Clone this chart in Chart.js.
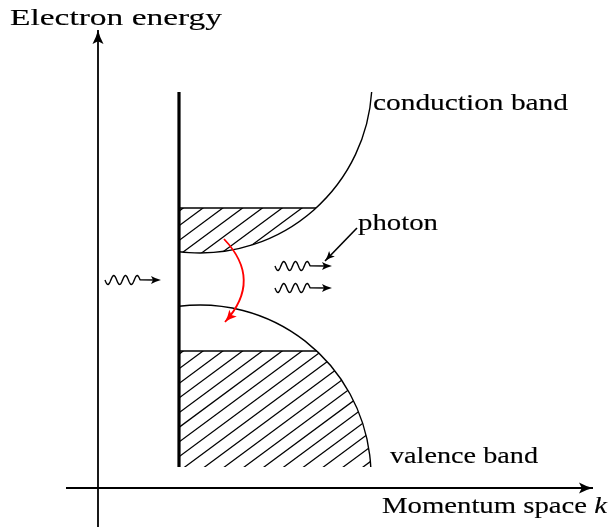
<!DOCTYPE html>
<html lang="en">
<head>
  <meta charset="UTF-8">
  <title>Band diagram</title>
  <!-- Chart.js -->
  <script src="https://cdn.jsdelivr.net/npm/chart.js"></script>
  <style>
    html, body { margin: 0; padding: 0; background: #fff; }
    #wrap { width: 609px; height: 530px; position: relative; }
  </style>
</head>
<body>
  <div id="wrap"><canvas id="bandChart"></canvas></div>

  <script>
    // units are px, origin where the two axes cross, y pointing up
    const xAxisLine = [{x: -32, y: 0}, {x: 495, y: 0}];
    const yAxisLine = [{x: 0, y: -39}, {x: 0, y: 458}];
    const wallLine = [{x: 81, y: 21}, {x: 81, y: 396}];
    const pointerLine = [{x: 259, y: 260}, {x: 227, y: 227}];

    // bands: circle arcs starting at the wall
    const bandNames = ['conduction band', 'valence band'];
    const bandCenterX = [102, 102];
    const bandCenterY = [407, 12];
    const bandRadius = [172, 171];
    const bandEndY = [396, 21];
    const bandFillLevel = [280, 137];

    // photons: wave start and arrow tip
    const waveStart = [{x: 7, y: 208}, {x: 177, y: 222}, {x: 177, y: 200}];
    const waveTip = [{x: 63, y: 208}, {x: 234, y: 222}, {x: 234, y: 200}];

    // red transition arrow (start, bend control, end)
    const transitionPath = [{x: 126, y: 249}, {x: 165, y: 208}, {x: 127, y: 166}];

    // labels
    const labelTexts = ['Electron energy', 'conduction band', 'photon', 'valence band', 'Momentum space '];
    const labelItalic = ['', '', '', '', 'k'];
    const labelX = [-88, 275, 260, 292, 284];
    const labelY = [463, 378, 258, 25, -25];

    // style bits
    const labelWidth = [212, 195, 80, 148, 225];
    const FONT = '24px "Liberation Serif", "Times New Roman", serif';
    const FONT_IT = 'italic 24px "Liberation Serif", "Times New Roman", serif';

    function arrowHead(ctx, tx, ty, dx, dy, len, half, color) {
      const a = Math.atan2(dy, dx);
      ctx.save();
      ctx.translate(tx, ty);
      ctx.rotate(a);
      ctx.fillStyle = color;
      ctx.beginPath();
      ctx.moveTo(0, 0);
      ctx.quadraticCurveTo(-len * 0.55, half * 0.35, -len, half);
      ctx.lineTo(-len * 0.8, 0);
      ctx.lineTo(-len, -half);
      ctx.quadraticCurveTo(-len * 0.55, -half * 0.35, 0, 0);
      ctx.fill();
      ctx.restore();
    }

    function bandGeom(chart, i) {
      const xs = chart.scales.x, ys = chart.scales.y;
      const k = xs.getPixelForValue(1) - xs.getPixelForValue(0);
      const cx = xs.getPixelForValue(bandCenterX[i]);
      const cy = ys.getPixelForValue(bandCenterY[i]);
      const r = bandRadius[i] * k;
      const wx = xs.getPixelForValue(wallLine[0].x);
      const sign = bandCenterY[i] > bandFillLevel[i] ? 1 : -1; // 1 = arc below its centre
      const dxw = wx - cx;
      const thW = Math.atan2(sign * Math.sqrt(r * r - dxw * dxw), dxw);
      const ye = ys.getPixelForValue(bandEndY[i]);
      const thE = Math.atan2(ye - cy, Math.sqrt(r * r - (ye - cy) * (ye - cy)));
      const yl = ys.getPixelForValue(bandFillLevel[i]);
      const dxl = Math.sqrt(r * r - (yl - cy) * (yl - cy));
      const thL = Math.atan2(yl - cy, dxl);
      return {cx, cy, r, wx, sign, thW, thE, ye, yl, xl: cx + dxl, thL};
    }

    const bandPlugin = {
      id: 'bandDiagram',
      beforeDatasetsDraw(chart) {
        const ctx = chart.ctx;
        for (let i = 0; i < bandNames.length; i++) {
          const g = bandGeom(chart, i);

          // hatched filled states
          ctx.save();
          ctx.beginPath();
          ctx.moveTo(g.wx, g.yl);
          ctx.lineTo(g.xl, g.yl);
          if (g.sign > 0) {
            ctx.arc(g.cx, g.cy, g.r, g.thL, g.thW, false);
          } else {
            ctx.arc(g.cx, g.cy, g.r, g.thL, g.thE, false);
            ctx.lineTo(g.wx, g.ye);
          }
          ctx.closePath();
          ctx.clip();
          ctx.strokeStyle = '#000';
          ctx.lineWidth = 1.25;
          const slope = 0.74, gap = 19.8;
          for (let n = -30; n <= 30; n++) {
            const x0 = 203 + n * gap;
            ctx.beginPath();
            ctx.moveTo(x0 - 400, g.yl + 400 * slope);
            ctx.lineTo(x0 + 400, g.yl - 400 * slope);
            ctx.stroke();
          }
          ctx.restore();

          // level line
          ctx.save();
          ctx.strokeStyle = '#000';
          ctx.lineWidth = 1.4;
          ctx.beginPath();
          ctx.moveTo(g.wx, g.yl);
          ctx.lineTo(g.xl, g.yl);
          ctx.stroke();

          // band arc
          ctx.beginPath();
          ctx.arc(g.cx, g.cy, g.r, Math.min(g.thE, g.thW), Math.max(g.thE, g.thW), false);
          ctx.stroke();
          ctx.restore();
        }
      },
      afterDatasetsDraw(chart) {
        const ctx = chart.ctx, xs = chart.scales.x, ys = chart.scales.y;
        const px = v => xs.getPixelForValue(v), py = v => ys.getPixelForValue(v);

        // axis arrow heads + pointer head
        arrowHead(ctx, px(xAxisLine[1].x), py(xAxisLine[1].y), 1, 0, 14, 5.5, '#000');
        arrowHead(ctx, px(yAxisLine[1].x), py(yAxisLine[1].y), 0, -1, 14, 5.5, '#000');
        arrowHead(ctx, px(pointerLine[1].x), py(pointerLine[1].y),
          px(pointerLine[1].x) - px(pointerLine[0].x), py(pointerLine[1].y) - py(pointerLine[0].y), 10, 4, '#000');

        // photon waves
        ctx.save();
        ctx.strokeStyle = '#000';
        ctx.lineWidth = 1.4;
        ctx.lineJoin = 'round';
        const P = 11.7, A = 4.5;
        for (let i = 0; i < waveStart.length; i++) {
          const x0 = px(waveStart[i].x), y0 = py(waveStart[i].y);
          const xt = px(waveTip[i].x);
          ctx.beginPath();
          ctx.moveTo(x0, y0);
          for (let s = 0; s <= 3 * P; s += 0.5) {
            ctx.lineTo(x0 + s, y0 + A * Math.sin(2 * Math.PI * s / P));
          }
          ctx.lineTo(xt - 6, y0);
          ctx.stroke();
          arrowHead(ctx, xt, y0, 1, 0, 10, 4, '#000');
        }
        ctx.restore();

        // red transition arrow
        const p0 = transitionPath[0], p1 = transitionPath[1], p2 = transitionPath[2];
        ctx.save();
        ctx.strokeStyle = '#ff0000';
        ctx.lineWidth = 1.8;
        ctx.beginPath();
        ctx.moveTo(px(p0.x), py(p0.y));
        ctx.quadraticCurveTo(px(p1.x), py(p1.y), px(p2.x), py(p2.y));
        ctx.stroke();
        ctx.restore();
        arrowHead(ctx, px(p2.x), py(p2.y), px(p2.x) - px(p1.x), py(p2.y) - py(p1.y), 12, 5, '#ff0000');

        // labels
        ctx.save();
        ctx.fillStyle = '#000';
        ctx.strokeStyle = '#000';
        ctx.lineWidth = 0.15;
        ctx.textBaseline = 'alphabetic';
        for (let i = 0; i < labelTexts.length; i++) {
          ctx.font = FONT;
          const w1 = ctx.measureText(labelTexts[i]).width;
          ctx.font = FONT_IT;
          const w2 = labelItalic[i] ? ctx.measureText(labelItalic[i]).width : 0;
          const sx = labelWidth[i] / (w1 + w2);
          ctx.save();
          ctx.translate(px(labelX[i]), py(labelY[i]));
          ctx.scale(sx, 1);
          ctx.font = FONT;
          ctx.fillText(labelTexts[i], 0, 0);
          ctx.strokeText(labelTexts[i], 0, 0);
          if (labelItalic[i]) {
            ctx.font = FONT_IT;
            ctx.fillText(labelItalic[i], w1, 0);
            ctx.strokeText(labelItalic[i], w1, 0);
          }
          ctx.restore();
        }
        ctx.restore();
      }
    };

    const lineSet = (data, width) => ({
      data: data, showLine: true, borderColor: '#000', borderWidth: width,
      pointRadius: 0, fill: false, tension: 0
    });

    new Chart(document.getElementById('bandChart'), {
      type: 'scatter',
      data: {
        datasets: [
          lineSet(xAxisLine, 1.8),
          lineSet(yAxisLine, 1.8),
          lineSet(wallLine, 3.2),
          lineSet(pointerLine, 1.6)
        ]
      },
      options: {
        responsive: true,
        maintainAspectRatio: false,
        animation: false,
        layout: { padding: 0 },
        plugins: { legend: { display: false }, tooltip: { enabled: false } },
        scales: {
          x: { type: 'linear', min: -98, max: 511, display: false },
          y: { type: 'linear', min: -42, max: 488, display: false }
        }
      },
      plugins: [bandPlugin]
    });
  </script>
</body>
</html>
